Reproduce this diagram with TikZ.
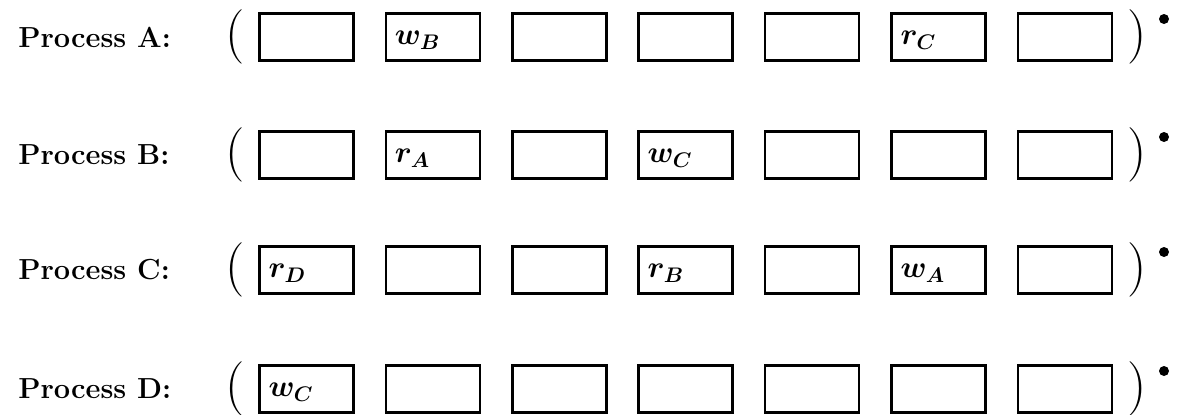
\documentclass[tikz,border=0pt]{standalone}
\usepackage{amsmath}
\usetikzlibrary{positioning}
\tikzset{
  slot/.style={draw, line width=1.5pt, minimum width=1.88cm, minimum height=0.94cm, inner sep=0pt},
  proc/.style={anchor=west, inner sep=0pt, font=\fontsize{16.5}{18}\selectfont\bfseries},
  paren/.style={inner sep=0pt, font=\fontsize{31}{31}\selectfont},
  op/.style={anchor=base west, inner sep=0pt, font=\fontsize{17}{18}\selectfont\boldmath}
}
\newcommand{\oplbl}[2]{\node[op] at ([xshift=0.2cm,yshift=-0.15cm]#1.west) {$#2$};}

\begin{document}
\begin{tikzpicture}
  \useasboundingbox (0,0) rectangle (23.72,-8.28);

  % one row per process
  \foreach \p/\y in {A/-0.74, B/-3.1, C/-5.4, D/-7.78} {
    \node[proc] (name\p) at (0.36,\y) {Process \p:};
    \node[paren] (open\p) at (4.7,\y) {(};
    \foreach \i in {1,...,7}
      \node[slot] (\p\i) at ({6.13+2.528*(\i-1)},\y) {};
    \node[paren] (close\p) at (22.74,\y) {)};
    \fill (23.28,{\y+0.36}) circle (0.1);
  }

  % operations in the slots
  \oplbl{A2}{w_B}
  \oplbl{A6}{r_C}
  \oplbl{B2}{r_A}
  \oplbl{B4}{w_C}
  \oplbl{C1}{r_D}
  \oplbl{C4}{r_B}
  \oplbl{C6}{w_A}
  \oplbl{D1}{w_C}
\end{tikzpicture}
\end{document}
